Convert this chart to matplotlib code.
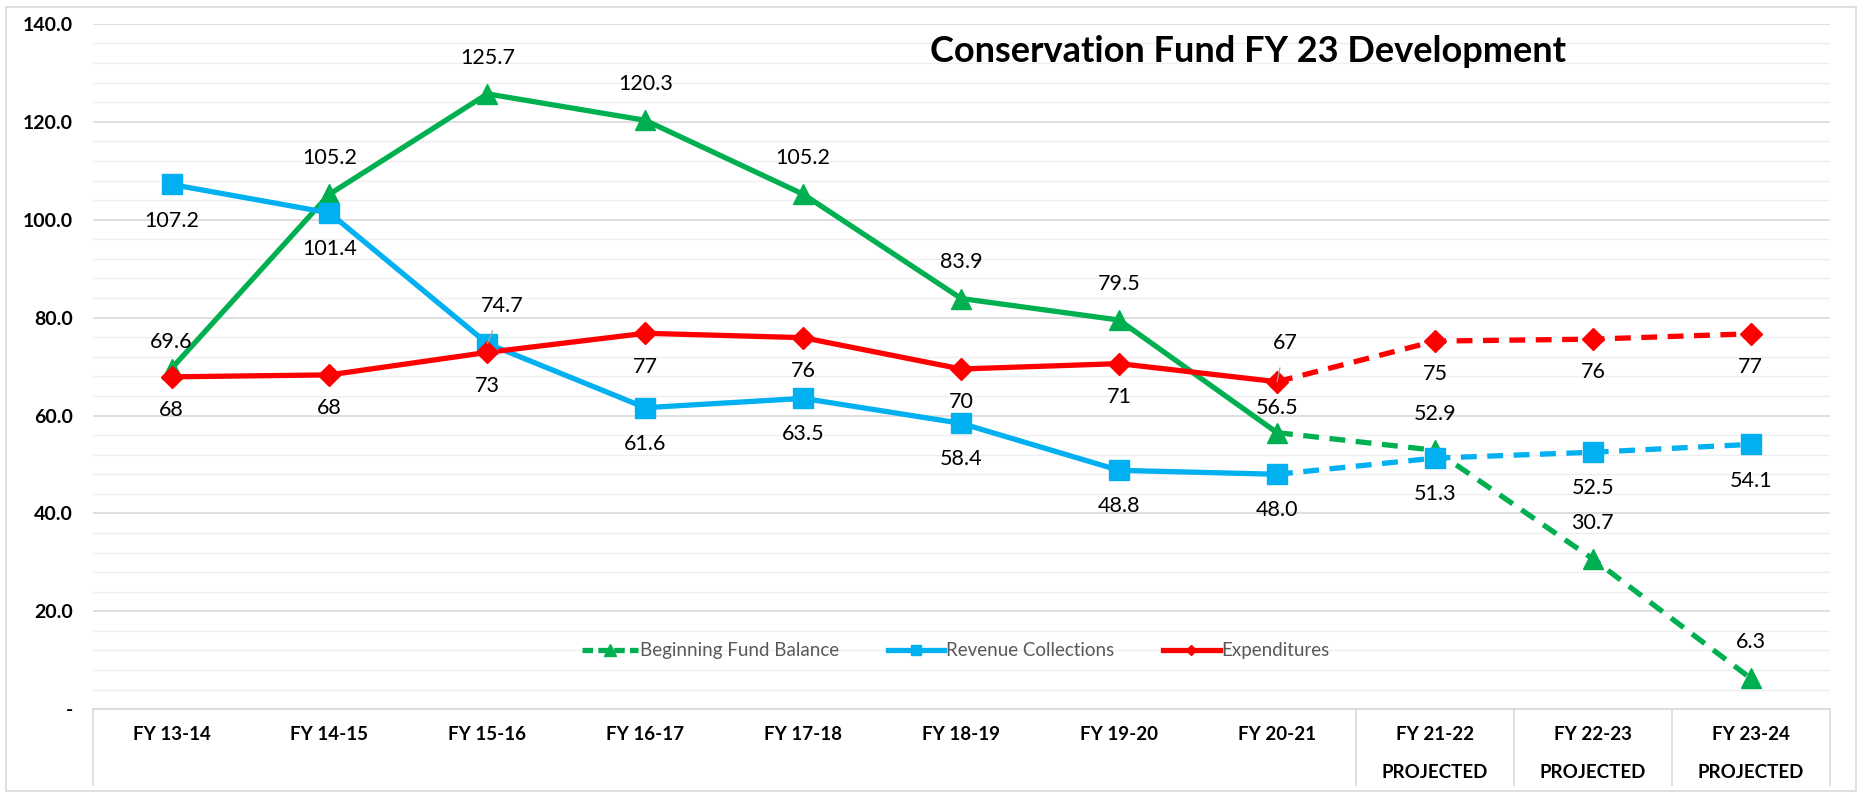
import matplotlib.pyplot as plt
from matplotlib.lines import Line2D
from matplotlib.patches import Rectangle
import matplotlib.transforms as mtransforms

plt.rcParams['font.family'] = ['Lato', 'DejaVu Sans']

years = ["FY 13-14", "FY 14-15", "FY 15-16", "FY 16-17", "FY 17-18", "FY 18-19",
         "FY 19-20", "FY 20-21", "FY 21-22", "FY 22-23", "FY 23-24"]
second_row = ["", "", "", "", "", "", "", "", "PROJECTED", "PROJECTED", "PROJECTED"]

balance = [69.6, 105.2, 125.7, 120.3, 105.2, 83.9, 79.5, 56.5, 52.9, 30.7, 6.3]
revenue = [107.2, 101.4, 74.7, 61.6, 63.5, 58.4, 48.8, 48.0, 51.3, 52.5, 54.1]
expend = [67.9, 68.3, 72.9, 76.8, 75.9, 69.5, 70.6, 66.9, 75.2, 75.6, 76.7]

GREEN = "#00B050"
BLUE = "#00B0F0"
RED = "#FF0000"
split = 7  # last actual year, dashed afterwards

fig = plt.figure(figsize=(18.62, 7.96), dpi=100)
ax = fig.add_axes([0.0497, 0.109, 0.933, 0.861])
fig.patches.append(Rectangle((0.003, 0.006), 0.994, 0.985, transform=fig.transFigure,
                             fill=False, edgecolor="#D9D9D9", lw=1.2))

x = list(range(len(years)))

series = [
    (balance, GREEN, "^", 15, "Beginning Fund Balance"),
    (revenue, BLUE, "s", 14, "Revenue Collections"),
    (expend, RED, "D", 11, "Expenditures"),
]
for vals, col, mk, ms, name in series:
    ax.plot(x[:split + 1], vals[:split + 1], color=col, lw=3.8, zorder=3)
    ax.plot(x[split:], vals[split:], color=col, lw=3.8, ls=(0, (3, 2)), zorder=3)
    ax.plot(x, vals, ls="none", marker=mk, ms=ms, color=col, zorder=4)

# data labels
lab = dict(ha="center", va="center", fontsize=15.5, color="black", zorder=5)
for i, v in enumerate(balance):
    dy = 26
    if i == 0:
        dy = 19
    if i == 7:
        dy = 18
    ax.annotate(f"{v:.1f}", (i, v), xytext=(0, dy), textcoords="offset points", **lab)
for i, v in enumerate(revenue):
    if i == 2:
        ax.annotate(f"{v:.1f}", (i, v), xytext=(11, 27), textcoords="offset points",
                    arrowprops=dict(arrowstyle="-", color="#A6A6A6", lw=0.9,
                                    shrinkA=9, shrinkB=0), **lab)
    else:
        ax.annotate(f"{v:.1f}", (i, v), xytext=(0, -26), textcoords="offset points", **lab)
for i, v in enumerate(expend):
    if i == 7:
        ax.annotate(f"{v:.0f}", (i, v), xytext=(6, 28), textcoords="offset points",
                    arrowprops=dict(arrowstyle="-", color="#A6A6A6", lw=0.9,
                                    shrinkA=9, shrinkB=0), **lab)
    else:
        ax.annotate(f"{v:.0f}", (i, v), xytext=(0, -24), textcoords="offset points", **lab)

ax.set_xlim(-0.5, len(years) - 0.5)
ax.set_ylim(0, 140)
ax.set_yticks(range(0, 141, 20))
ax.set_yticks(range(0, 141, 4), minor=True)
ax.set_yticklabels(["-" if t == 0 else f"{t:.1f}" for t in range(0, 141, 20)],
                   fontweight="bold", fontsize=14)
ax.tick_params(axis="y", which="both", length=0, pad=14)
ax.tick_params(axis="x", which="both", length=0, labelbottom=False)
ax.grid(axis="y", which="major", color="#D9D9D9", lw=1.2)
ax.grid(axis="y", which="minor", color="#EFEFEF", lw=1.0)
ax.set_axisbelow(True)
for s in ["top", "right", "left"]:
    ax.spines[s].set_visible(False)
ax.spines["bottom"].set_color("#D9D9D9")
ax.spines["bottom"].set_linewidth(1.2)

# category axis as two-level table
trans = mtransforms.blended_transform_factory(ax.transData, ax.transAxes)
for i, (a, b) in enumerate(zip(years, second_row)):
    ax.text(i, -0.037, a, transform=trans, ha="center", va="center",
            fontsize=13.5, fontweight="bold")
    if b:
        ax.text(i, -0.093, b, transform=trans, ha="center", va="center",
                fontsize=13.5, fontweight="bold")
for xs in [-0.5, split + 0.5, split + 1.5, split + 2.5, len(years) - 0.5]:
    ax.plot([xs, xs], [0, -0.11], transform=trans, color="#D9D9D9", lw=1.2, clip_on=False)

handles = [
    Line2D([], [], color=GREEN, lw=3.8, ls=(0, (2, 1)), marker="^", ms=9),
    Line2D([], [], color=BLUE, lw=3.8, marker="s", ms=7),
    Line2D([], [], color=RED, lw=3.8, marker="D", ms=5),
]
leg = ax.legend(handles, [s[4] for s in series], loc="center", bbox_to_anchor=(0.497, 0.085),
                ncol=3, frameon=False, fontsize=13.5, handlelength=3.0, columnspacing=2.6,
                handletextpad=0.1)
for t in leg.get_texts():
    t.set_color("#595959")

fig.text(0.670, 0.935, "Conservation Fund FY 23 Development", ha="center", va="center",
         fontsize=26, fontweight="bold")

fig.savefig("out.png", dpi=100)
